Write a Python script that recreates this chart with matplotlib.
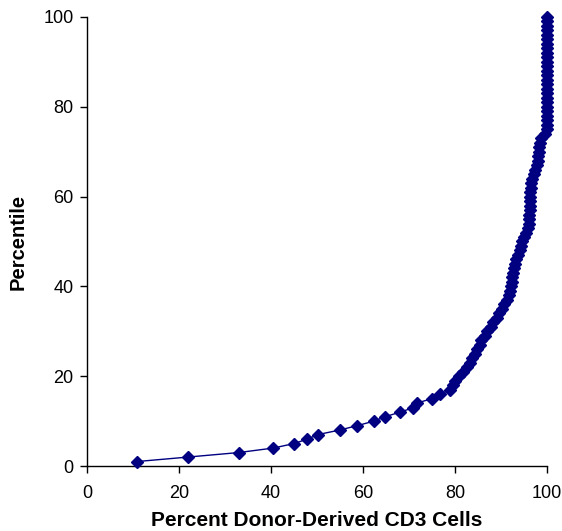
import matplotlib
matplotlib.use("Agg")
import matplotlib.pyplot as plt

plt.rcParams['font.family'] = ['Liberation Sans', 'DejaVu Sans']

percentile = list(range(1, 101))
donor_cd3 = [
    10.9, 22.0, 33.0, 40.5, 45.0, 47.9, 50.2, 54.9, 58.8, 62.4,
    64.9, 68.1, 71.0, 71.7, 75.0, 76.8, 79.0, 79.5, 80.0, 81.0,
    81.8, 82.6, 83.3, 83.8, 84.3, 84.8, 85.4, 85.8, 86.5, 87.0,
    87.8, 88.3, 89.2, 89.6, 90.3, 90.8, 91.3, 91.7, 92.0, 92.2,
    92.4, 92.5, 92.6, 92.8, 93.1, 93.3, 93.8, 94.1, 94.3, 94.7,
    95.1, 95.5, 95.9, 96.1, 96.2, 96.2, 96.3, 96.3, 96.3, 96.4,
    96.4, 96.5, 96.6, 96.8, 97.2, 97.5, 97.8, 98.0, 98.1, 98.3,
    98.4, 98.5, 98.8, 99.6, 100, 100, 100, 100, 100, 100,
    100, 100, 100, 100, 100, 100, 100, 100, 100, 100,
    100, 100, 100, 100, 100, 100, 100, 100, 100, 100,
]
x_ticks = [0, 20, 40, 60, 80, 100]
y_ticks = [0, 20, 40, 60, 80, 100]

fig = plt.figure(figsize=(5.62, 5.31), dpi=100)
ax = fig.add_axes([0.1553, 0.1224, 0.8175, 0.8456])
ax.plot(donor_cd3, percentile, color='#000080', linewidth=1.0,
        marker='D', markersize=6, markerfacecolor='#000080',
        markeredgecolor='#000080', clip_on=False, zorder=3)
ax.set_xlim(0, 100)
ax.set_ylim(0, 100)
ax.set_xticks(x_ticks)
ax.set_yticks(y_ticks)
for s in ['top', 'right']:
    ax.spines[s].set_visible(False)
for s in ['left', 'bottom']:
    ax.spines[s].set_linewidth(1.0)
    ax.spines[s].set_color('black')
ax.tick_params(axis='both', direction='out', length=5, width=1.0,
               labelsize=13, colors='black', pad=5)
ax.tick_params(axis='x', pad=9)
ax.set_xlabel('Percent Donor-Derived CD3 Cells', fontsize=15,
              fontweight='bold', labelpad=6)
ax.set_ylabel('Percentile', fontsize=14.5, fontweight='bold', labelpad=11)
fig.savefig('out.png', dpi=100)
